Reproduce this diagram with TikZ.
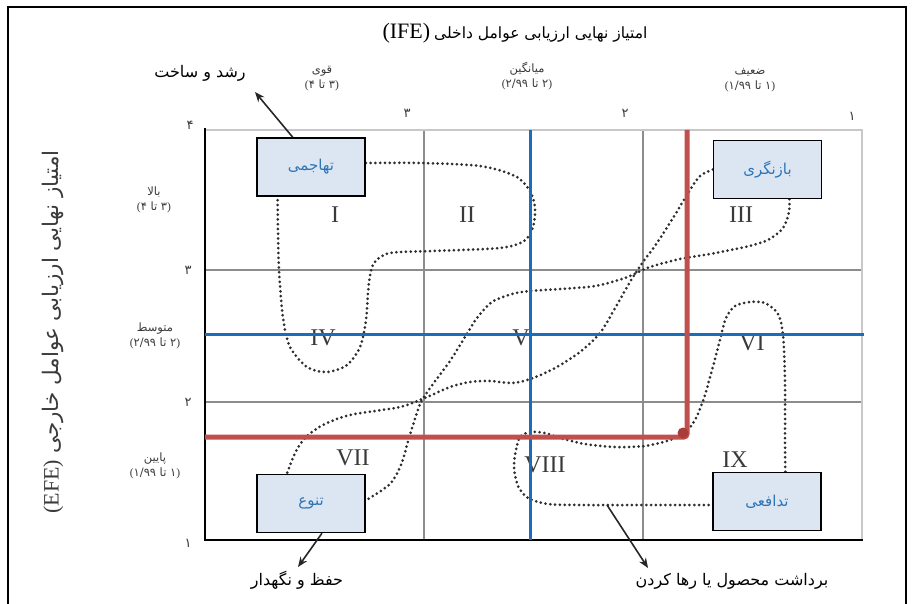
\documentclass[tikz,border=0pt]{standalone}
\usepackage{fontspec}
\setmainfont{Liberation Serif}
\newfontfamily\fa[Script=Arabic]{DejaVu Sans}
\TeXXeTstate=1
\usetikzlibrary{calc,arrows.meta}
\newcommand{\fatext}[1]{{\fa\beginR #1\endR}}
\definecolor{boxfill}{HTML}{DCE6F2}
\definecolor{boxtext}{HTML}{2E75B6}
\definecolor{gridgray}{HTML}{8C8C8C}
\definecolor{edgegray}{HTML}{C8C8C8}
\definecolor{bluel}{HTML}{1A6DBA}
\definecolor{redl}{HTML}{C0504D}
\definecolor{reddot}{HTML}{A83C39}
\definecolor{dotgray}{HTML}{2E2E2E}
\definecolor{labgray}{HTML}{3A3A3A}
\begin{document}
\begin{tikzpicture}[x=1pt,y=-1pt,
  box/.style={draw=black,line width=1.5pt,fill=boxfill,minimum width=108pt,minimum height=58pt,inner sep=0pt,font=\fa\fontsize{15}{17}\selectfont,text=boxtext},
  gridln/.style={draw=gridgray,line width=1.2pt},
  edgeln/.style={draw=edgegray,line width=1.8pt},
  axisln/.style={draw=black,line width=2.5pt},
  dotline/.style={draw=dotgray,line width=3pt,line cap=round,dash pattern=on 0pt off 4.8pt},
  lab/.style={font=\fontsize{11.5}{15}\selectfont,text=labgray,align=center,inner sep=0pt},
  roman/.style={font=\fontsize{24}{24}\selectfont,text=labgray,inner sep=0pt},
  num/.style={font=\fa\fontsize{13}{13}\selectfont,text=labgray,inner sep=0pt},
  biglab/.style={font=\fontsize{16}{16}\selectfont,text=black,inner sep=0pt},
  arr/.style={-{Stealth[length=10pt,width=8pt]},line width=1.6pt,draw=black!85}
]
\useasboundingbox (0,0) rectangle (914,604);
% outer frame
\draw[line width=2pt] (8,604) -- (8,7) -- (906,7) -- (906,604);

% titles
\node[inner sep=0pt] (title) at (515,33) {{\fontsize{22}{22}\selectfont (IFE)}\hspace{4pt}{\fontsize{15.5}{15.5}\selectfont\fatext{امتیاز نهایی ارزیابی عوامل داخلی}}};
\node[inner sep=0pt,rotate=90,text=labgray] (ytitle) at (53,332) {{\fontsize{22}{22}\selectfont (EFE)}\hspace{6pt}{\fontsize{21.5}{21.5}\selectfont\fatext{امتیاز نهایی ارزیابی عوامل خارجی}}};

% column labels
\node[lab] (c1) at (322,79) {\fatext{قوی}\\ (\fatext{۳ تا ۴})};
\node[lab] (c2) at (527,76) {\fatext{میانگین}\\ (\fatext{۲ تا ۲/۹۹})};
\node[lab] (c3) at (750,80) {\fatext{ضعیف}\\ (\fatext{۱ تا ۱/۹۹})};
% row labels
\node[lab] (r1) at (154,200) {\fatext{بالا}\\ (\fatext{۳ تا ۴})};
\node[lab] (r2) at (155,336) {\fatext{متوسط}\\ (\fatext{۲ تا ۲/۹۹})};
\node[lab] (r3) at (155,466) {\fatext{پایین}\\ (\fatext{۱ تا ۱/۹۹})};

% tick numbers
\node[num] (t4) at (190,125) {۴};
\node[num] (t3) at (407,113) {۳};
\node[num] (t2) at (625,113) {۲};
\node[num] (t1) at (852,116) {۱};
\node[num] (l3) at (188,270) {۳};
\node[num] (l2) at (188,402) {۲};
\node[num] (l1) at (188,543) {۱};

% grid
\draw[gridln] (424,130) -- (424,540);
\draw[gridln] (643,130) -- (643,540);
\draw[gridln] (205,270) -- (862,270);
\draw[gridln] (205,402) -- (862,402);
\draw[edgeln] (205,130) -- (862,130) -- (862,540);
\draw[axisln] (205,128) -- (205,540) -- (863,540);

% roman numerals
\node[roman] (n1) at (335,215) {I};
\node[roman] (n2) at (467,215) {II};
\node[roman] (n3) at (741,215) {III};
\node[roman] (n4) at (323,338) {IV};
\node[roman] (n5) at (521,338) {V};
\node[roman] (n6) at (752,343) {VI};
\node[roman] (n7) at (353,458) {VII};
\node[roman] (n8) at (545,465) {VIII};
\node[roman] (n9) at (735,460) {IX};

% boxes
\node[box] (b1) at (311,167) {\beginR تهاجمی\endR};
\node[box] (b2) at (767.5,169.5) {\beginR بازنگری\endR};
\node[box] (b3) at (311,503.5) {\beginR تنوع\endR};
\node[box] (b4) at (767,501.5) {\beginR تدافعی\endR};

% anchors for dotted curves
\coordinate (a0) at ([yshift=4pt]b1.east);
\coordinate (a1) at ($(b1.south west)!0.195!(b1.south east)$);
\coordinate (bb0) at (b2.west);
\coordinate (bb1) at ($(b3.north west)!0.28!(b3.north east)$);
\coordinate (cc0) at ($(b2.south west)!0.7!(b2.south east)$);
\coordinate (cc1) at ([yshift=3pt]b3.east);
\coordinate (dd0) at ($(b4.north west)!0.667!(b4.north east)$);
\coordinate (dd1) at ([yshift=-3.5pt]b4.west);

% dotted curves
\draw[dotline] plot[smooth,tension=0.5] coordinates {(a0) (420,163) (480,166) (515,176) (530,191) (535,208) (533,227) (524,241) (500,248) (433,251) (390,253) (374,263) (369,282) (366,320) (360,347) (347,365) (327,372) (307,367) (290,347) (283,318) (279,270) (278,230) (a1)};
\draw[dotline] plot[smooth,tension=0.5] coordinates {(bb0) (700,176) (690,190) (673,218) (657,243) (643,262) (630,282) (614,310) (600,333) (580,352) (555,368) (533,378) (513,383) (490,381) (470,382) (450,387) (427,397) (400,407) (350,415) (323,425) (306,437) (296,451) (bb1)};
\draw[dotline] plot[smooth,tension=0.5] coordinates {(cc0) (789,212) (783,228) (768,240) (745,247) (710,254) (680,259) (650,267) (625,278) (595,286) (560,289) (530,291) (512,294) (492,302) (477,318) (465,337) (450,361) (433,384) (421,402) (413,425) (407,445) (401,465) (390,484) (cc1)};
\draw[dotline] plot[smooth,tension=0.5] coordinates {(dd0) (785,440) (785,380) (783,335) (778,314) (765,303) (750,302) (735,306) (726,318) (720,340) (712,370) (704,398) (696,418) (686,432) (670,440) (645,446) (615,447) (585,444) (560,438) (545,433) (530,432) (520,437) (516,450) (514,467) (518,486) (528,498) (548,504) (580,505) (650,505) (dd1)};

% blue and red lines
\draw[draw=bluel,line width=3pt] (530,130) -- (530,540);
\draw[draw=bluel,line width=3pt] (205,335) -- (864,335);
\draw[draw=redl,line width=5pt,rounded corners=3pt] (687,130) -- (687,437) -- (205,437);
\fill[reddot] (683,433) circle (5.5pt);

% redraw boxes on top
\node[box] at (b1) {\beginR تهاجمی\endR};
\node[box] at (b2) {\beginR بازنگری\endR};
\node[box] at (b3) {\beginR تنوع\endR};
\node[box] at (b4) {\beginR تدافعی\endR};

% arrows and labels
\node[biglab] (rs) at (200,73) {\fatext{رشد و ساخت}};
\node[biglab] (hn) at (297,580) {\fatext{حفظ و نگهدار}};
\node[biglab] (br) at (732,581) {\fatext{برداشت محصول یا رها کردن}};
\coordinate (rsend) at (255,92);
\coordinate (hnend) at (298,567);
\coordinate (hv) at (607,505);
\coordinate (brend) at (648,568);
\draw[arr] ($(b1.north west)!0.333!(b1.north east)$) -- (rsend);
\draw[arr] ($(b3.south west)!0.6!(b3.south east)$) -- (hnend);
\draw[arr] (hv) -- (brend);
\end{tikzpicture}
\end{document}
